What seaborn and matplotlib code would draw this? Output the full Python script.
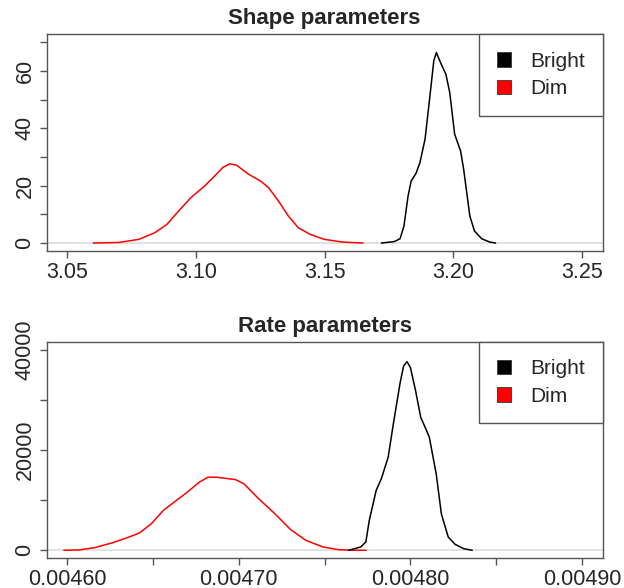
import matplotlib
matplotlib.use("Agg")
import matplotlib.pyplot as plt
from matplotlib.patches import Patch
import seaborn as sns

# density curves (x, density)
shape_dim_x = [3.0601, 3.0701, 3.0779, 3.0840, 3.0887, 3.0933, 3.0980, 3.1034, 3.1073,
               3.1104, 3.1131, 3.1158, 3.1204, 3.1251, 3.1282, 3.1320, 3.1359, 3.1398,
               3.1444, 3.1498, 3.1568, 3.1649]
shape_dim_y = [0.0, 0.2, 1.3, 3.6, 6.5, 11.2, 15.8, 19.9, 23.4,
               26.3, 27.6, 27.1, 24.0, 21.6, 19.3, 14.7, 9.4, 5.3,
               3.0, 1.3, 0.35, 0.0]

shape_bright_x = [3.1720, 3.1770, 3.1793, 3.1808, 3.1824, 3.1836, 3.1855, 3.1870, 3.1890,
                  3.1909, 3.1924, 3.1934, 3.1947, 3.1971, 3.1986, 3.2005, 3.2028, 3.2040,
                  3.2064, 3.2082, 3.2110, 3.2141, 3.2164]
shape_bright_y = [0.0, 0.5, 1.5, 5.9, 16.4, 21.6, 24.3, 28.0, 36.2,
                  51.3, 63.5, 66.4, 63.5, 58.8, 52.4, 37.9, 32.1, 25.7,
                  9.4, 4.2, 1.5, 0.35, 0.0]

rate_dim_x = [0.004598, 0.004607, 0.004616, 0.004626, 0.004635, 0.004642, 0.004649,
              0.004656, 0.004663, 0.004670, 0.004677, 0.004682, 0.004687, 0.004698,
              0.004703, 0.004711, 0.004721, 0.004730, 0.004739, 0.004749, 0.004758,
              0.004766, 0.004774]
rate_dim_y = [0, 70, 530, 1460, 2520, 3440, 5300,
              7950, 9800, 11600, 13600, 14570, 14570, 14100,
              13250, 10460, 7280, 4170, 1990, 660, 130,
              0, 0]

rate_bright_x = [0.004764, 0.004771, 0.004774, 0.004776, 0.004780, 0.004783, 0.004787,
                 0.004790, 0.004794, 0.004796, 0.004798, 0.004800, 0.004803, 0.004806,
                 0.004809, 0.004811, 0.004815, 0.004818, 0.004822, 0.004826, 0.004831,
                 0.004836]
rate_bright_y = [0, 660, 1660, 5960, 11920, 14240, 18550,
                 25170, 33450, 36750, 37620, 36420, 31790, 26490,
                 24170, 22520, 15230, 7280, 2650, 1190, 330,
                 0]

legend_labels = ["Bright", "Dim"]
legend_colors = ["black", "red"]

shape_xticks = [3.05, 3.10, 3.15, 3.20, 3.25]
shape_yticks = [0, 10, 20, 30, 40, 50, 60, 70]
rate_xticks = [0.00460, 0.00465, 0.00470, 0.00475, 0.00480, 0.00485, 0.00490]
rate_yticks = [0, 10000, 20000, 30000, 40000]

sns.set_style("white")
plt.rcParams["font.family"] = ["Liberation Sans", "DejaVu Sans"]

fig = plt.figure(figsize=(6.24, 5.88), dpi=100)
ax1 = fig.add_axes([0.0748, 0.573, 0.8910, 0.369])
ax2 = fig.add_axes([0.0748, 0.0505, 0.8910, 0.3684])

box_col = "#555555"


def style_axes(ax, title):
    for s in ax.spines.values():
        s.set_color(box_col)
        s.set_linewidth(1.0)
    ax.tick_params(axis="both", direction="out", length=5, width=1, color=box_col,
                   labelsize=15.5, bottom=True, left=True, pad=3)
    ax.tick_params(axis="y", labelrotation=90)
    for lab in ax.get_yticklabels():
        lab.set_va("center")
    ax.set_title(title, fontsize=16, fontweight="bold", pad=7)
    ax.axhline(0, color="#dddddd", lw=1.2, zorder=0)
    handles = [Patch(facecolor=c, edgecolor="#333333", lw=0.6) for c in legend_colors]
    leg = ax.legend(handles, legend_labels, loc="upper right", bbox_to_anchor=(1, 1),
                    borderaxespad=0, fancybox=False, framealpha=1, fontsize=15,
                    handlelength=0.7, handleheight=0.7, handletextpad=0.9,
                    labelspacing=0.4, borderpad=0.85)
    leg.get_frame().set_edgecolor(box_col)
    leg.get_frame().set_linewidth(1.0)
    ax.set_xlabel("")
    ax.set_ylabel("")


# top panel: shape
sns.lineplot(x=shape_dim_x, y=shape_dim_y, color="red", lw=1.1, sort=False,
             estimator=None, ax=ax1)
sns.lineplot(x=shape_bright_x, y=shape_bright_y, color="black", lw=1.1, sort=False,
             estimator=None, ax=ax1)
ax1.set_xlim(3.042, 3.258)
ax1.set_ylim(-2.8, 72.8)
ax1.set_xticks(shape_xticks)
ax1.set_xticklabels([f"{v:.2f}" for v in shape_xticks])
ax1.set_yticks(shape_yticks)
ax1.set_yticklabels([str(v) if v % 20 == 0 else "" for v in shape_yticks])
style_axes(ax1, "Shape parameters")

# bottom panel: rate
sns.lineplot(x=rate_dim_x, y=rate_dim_y, color="red", lw=1.1, sort=False,
             estimator=None, ax=ax2)
sns.lineplot(x=rate_bright_x, y=rate_bright_y, color="black", lw=1.1, sort=False,
             estimator=None, ax=ax2)
ax2.set_xlim(0.004588, 0.004912)
ax2.set_ylim(-1600, 41600)
ax2.set_xticks(rate_xticks)
ax2.set_xticklabels([f"{v:.5f}" if i % 2 == 0 else "" for i, v in enumerate(rate_xticks)])
ax2.set_yticks(rate_yticks)
ax2.set_yticklabels([str(v) if v % 20000 == 0 else "" for v in rate_yticks])
style_axes(ax2, "Rate parameters")

fig.savefig("out.png", dpi=100)
